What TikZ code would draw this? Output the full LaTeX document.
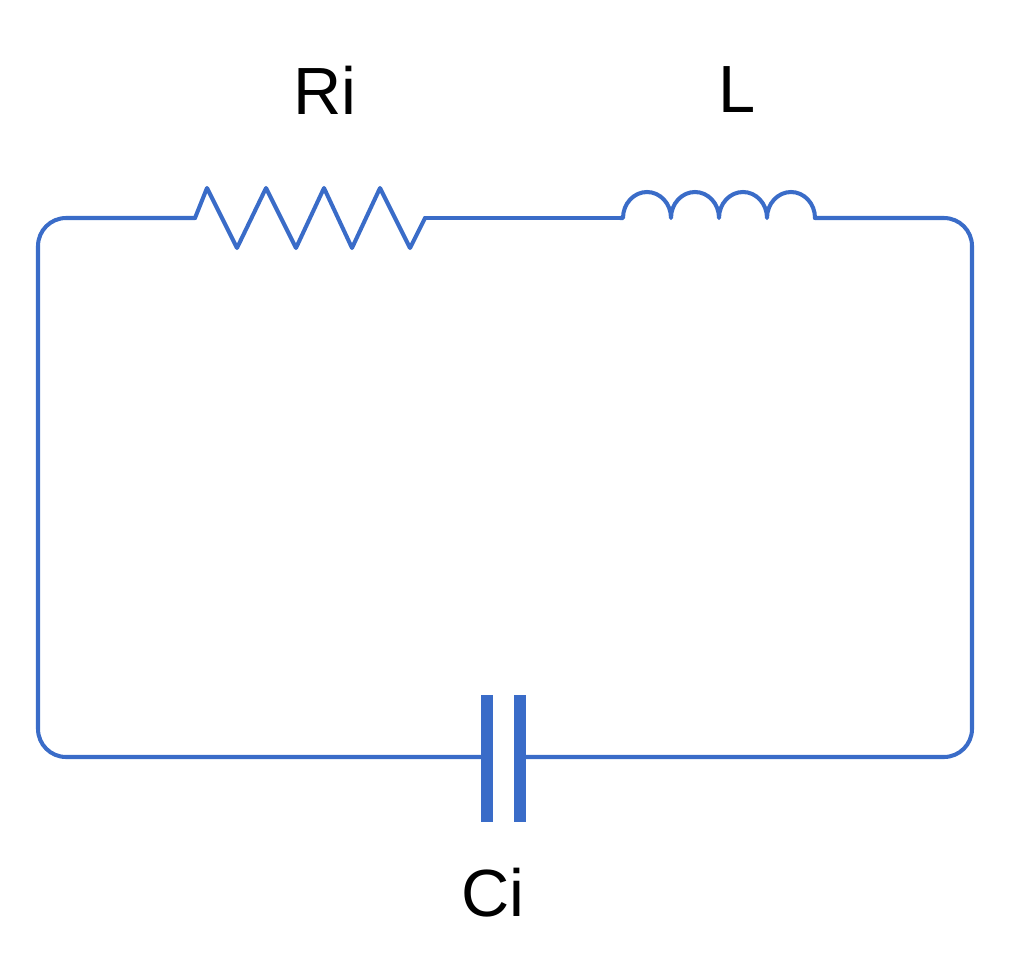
\documentclass[tikz,border=0pt]{standalone}
\usepackage{fontspec}
\setmainfont{Liberation Sans}
\definecolor{wire}{RGB}{58,108,200}
\begin{document}
\begin{tikzpicture}[x=0.02cm,y=-0.02cm,
  w/.style={draw=wire,line width=2.3pt,line join=round,line cap=round},
  plate/.style={fill=wire,draw=none},
  lbl/.style={font=\fontsize{38}{44}\selectfont,text=black}]
\useasboundingbox (0,0) rectangle (1020,960);
\coordinate (ra) at (195,218);
\coordinate (rb) at (425,218);
\coordinate (la) at (620,218);
\coordinate (lb) at (815,218);
\coordinate (ca) at (487,757);
\coordinate (cb) at (520,757);
% wires
\draw[w,rounded corners=16] (ra) -- (38,218) -- (38,757) -- (ca);
\draw[w,rounded corners=16] (lb) -- (972,218) -- (972,757) -- (cb);
\draw[w] (rb) -- (la);
% resistor
\draw[w] (ra) -- (207,188) -- (237,248) -- (266,188) -- (296,248) -- (324,188) -- (352,248) -- (380,188) -- (410,248) -- (rb);
% inductor
\draw[w] (la) -- (623,218) arc[start angle=180,end angle=0,x radius=24,y radius=-26]
  arc[start angle=180,end angle=0,x radius=24,y radius=-26]
  arc[start angle=180,end angle=0,x radius=24,y radius=-26]
  arc[start angle=180,end angle=0,x radius=24,y radius=-26] -- (lb);
% capacitor
\fill[plate] (481,695) rectangle (493,822);
\fill[plate] (514,695) rectangle (526,822);
\node[lbl] (tR) at (325,90) {Ri};
\node[lbl] (tL) at (737,90) {L};
\node[lbl] (tC) at (493,893) {Ci};
\end{tikzpicture}
\end{document}
